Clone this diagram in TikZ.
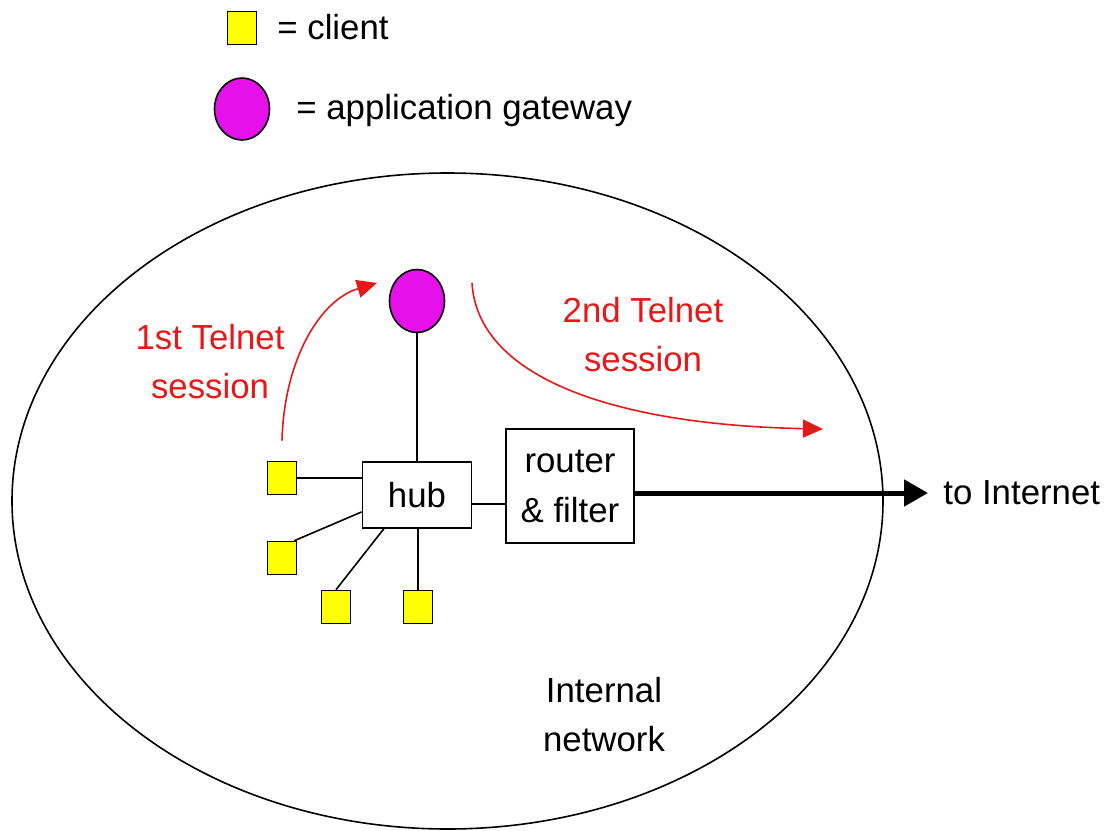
\documentclass[tikz,border=0pt]{standalone}
\usepackage{fontspec}
\setmainfont{Liberation Sans}
\usetikzlibrary{shapes.geometric,arrows.meta,positioning,calc}
\definecolor{gwmagenta}{RGB}{230,16,235}
\definecolor{clyellow}{RGB}{255,255,0}
\definecolor{telred}{RGB}{232,24,24}
\tikzset{
  client/.style  = {rectangle, draw=black, fill=clyellow, line width=0.8pt,
                    minimum width=14.5pt, minimum height=16.5pt, inner sep=0pt},
  gateway/.style = {ellipse, draw=black, fill=gwmagenta, line width=0.8pt,
                    minimum width=27.5pt, minimum height=31.5pt, inner sep=0pt},
  netbox/.style  = {rectangle, draw=black, line width=0.8pt, align=center,
                    font=\fontsize{17.4}{25}\selectfont, inner sep=0pt},
  lbl/.style     = {align=center, font=\fontsize{17.4}{24.5}\selectfont, inner sep=0pt},
  wire/.style    = {line width=0.8pt},
  sess/.style    = {-{Triangle[length=10pt,width=9pt]}, telred, line width=0.8pt},
  uplink/.style  = {-{Triangle[length=12pt,width=13pt]}, line width=2.5pt},
}
\begin{document}
\begin{tikzpicture}[x=0.5pt, y=-0.5pt]
  \useasboundingbox (0,0) rectangle (1105,831);
  % legend
  \node[client] (lgsq) at (242,28) {};
  \node[lbl, anchor=west] (lgclient) at (277,27) {= client};
  \node[gateway, minimum height=31pt] (lggw) at (242,109) {};
  \node[lbl, anchor=west] (lggwtxt) at (296,110) {= application gateway};

  % internal network
  \node[ellipse, draw=black, line width=0.8pt, minimum width=435.5pt, minimum height=328pt] (lan) at (447.5,501) {};
  \node[lbl] (lantxt) at (604,715) {Internal\\network};

  \node[gateway] (gw) at (417,301) {};
  \node[netbox, minimum width=54.5pt, minimum height=33pt] (hub) at (417,495) {hub};
  \node[netbox, minimum width=64pt, minimum height=57pt] (router) at (570,486) {router\\\& filter};
  \node[client] (c1) at (282,478) {};
  \node[client] (c2) at (282,558) {};
  \node[client] (c3) at (336,607) {};
  \node[client] (c4) at (418,607) {};

  \draw[wire] (c1.east) -- (c1.east -| hub.west);
  \draw[wire] ([xshift=-1.5pt]c2.north east) -- ($(hub.west)!0.5!(hub.south west)$);
  \draw[wire] (c3.north) -- ($(hub.south west)!0.2!(hub.south east)$);
  \draw[wire] (c4.north) -- (c4.north |- hub.south);
  \draw[wire] (hub.north) -- (gw.south);
  \draw[wire] ([yshift=-4.5pt]hub.east) -- ([yshift=-4.5pt]hub.east -| router.west);

  % uplink
  \node[lbl, anchor=west] (toinet) at (943,493) {to Internet};
  \draw[uplink] (router.east |- toinet.west) -- (toinet.west) [shorten >=7.5pt];

  % telnet sessions
  \node[lbl, text=telred] (s1txt) at (210,362) {1st Telnet\\session};
  \node[lbl, text=telred] (s2txt) at (643,335) {2nd Telnet\\session};
  \coordinate (s1end) at (377,283);
  \coordinate (s2start) at (472,283);
  \coordinate (s2end) at (823,429);
  \draw[sess] ([yshift=10pt]c1.north) .. controls (284,360) and (320,300) .. (s1end);
  \draw[sess] (s2start) .. controls (478,380) and (620,425) .. (s2end);
\end{tikzpicture}
\end{document}
